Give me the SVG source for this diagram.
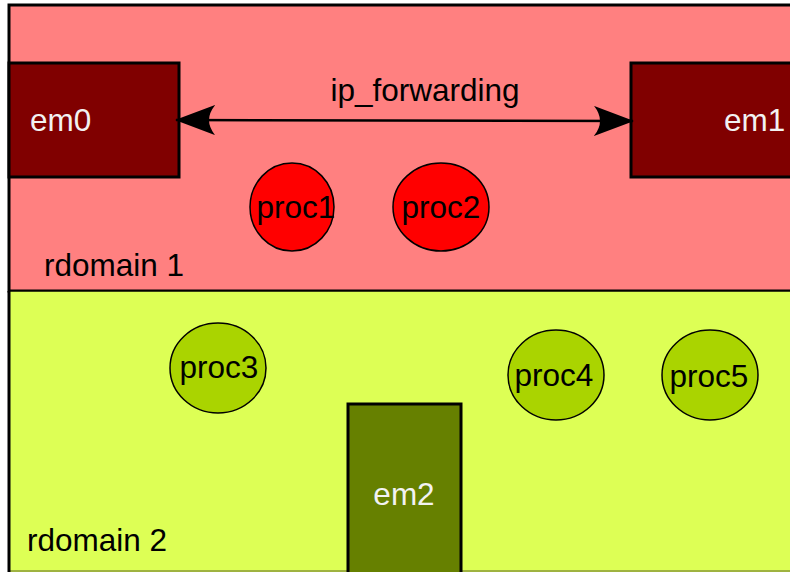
<svg xmlns="http://www.w3.org/2000/svg" width="790" height="572" viewBox="0 0 790 572">
<style>
text{font-family:"Liberation Sans",Arial,sans-serif;font-size:31.5px}
.em{stroke:#000;stroke-width:3}
.lt{fill:#f2f2f2}
.dk{fill:#000}
.pr{fill:#ff0000;stroke:#000;stroke-width:1.5}
.pg{fill:#aad400;stroke:#000;stroke-width:1.5}
</style>
<defs>
<marker id="ah" viewBox="0 0 40 30" refX="39" refY="15" markerWidth="40" markerHeight="30" markerUnits="userSpaceOnUse" orient="auto-start-reverse">
<path d="M40,15 L0,0 Q12,15 0,30 Z" fill="#000"/>
</marker>
</defs>
<rect width="790" height="572" fill="#fff"/>
<g id="rdomain1">
<rect x="9" y="5" width="790" height="286" fill="#ff8080" stroke="#000" stroke-width="3"/>
<text x="44" y="276" class="dk">rdomain 1</text>
</g>
<g id="rdomain2">
<rect x="9" y="291" width="790" height="281" fill="#ddff55"/>
<line x1="9" y1="291" x2="790" y2="291" stroke="#000" stroke-width="1.5"/>
<line x1="9" y1="571" x2="790" y2="571" stroke="#8a9a3a" stroke-width="1.5"/>
<line x1="9" y1="291" x2="9" y2="572" stroke="#000" stroke-width="3"/>
<text x="27" y="551" class="dk">rdomain 2</text>
</g>
<g id="em0">
<rect x="9" y="63" width="170" height="114" fill="#800000" class="em"/>
<text x="30" y="131" class="lt">em0</text>
</g>
<g id="em1">
<rect x="631" y="63" width="170" height="114" fill="#800000" class="em"/>
<text x="724" y="131" class="lt">em1</text>
</g>
<g id="em2">
<rect x="348" y="404" width="113" height="180" fill="#668000" class="em"/>
<text x="404" y="505" text-anchor="middle" class="lt">em2</text>
</g>
<g id="proc1">
<ellipse cx="292" cy="207" rx="42" ry="44" class="pr"/>
<text x="296" y="218" text-anchor="middle" class="dk">proc1</text>
</g>
<g id="proc2">
<ellipse cx="441" cy="207" rx="48" ry="44" class="pr"/>
<text x="441" y="218" text-anchor="middle" class="dk">proc2</text>
</g>
<g id="proc3">
<ellipse cx="218" cy="368" rx="48" ry="45" class="pg"/>
<text x="219" y="378" text-anchor="middle" class="dk">proc3</text>
</g>
<g id="proc4">
<ellipse cx="556" cy="375" rx="48" ry="45" class="pg"/>
<text x="554" y="386" text-anchor="middle" class="dk">proc4</text>
</g>
<g id="proc5">
<ellipse cx="710" cy="375" rx="48" ry="45" class="pg"/>
<text x="709" y="387" text-anchor="middle" class="dk">proc5</text>
</g>
<g id="connectors">
<line x1="176" y1="120" x2="633" y2="121" stroke="#000" stroke-width="2.5" marker-start="url(#ah)" marker-end="url(#ah)"/>
<text x="425" y="101" text-anchor="middle" class="dk">ip_forwarding</text>
</g>
</svg>
